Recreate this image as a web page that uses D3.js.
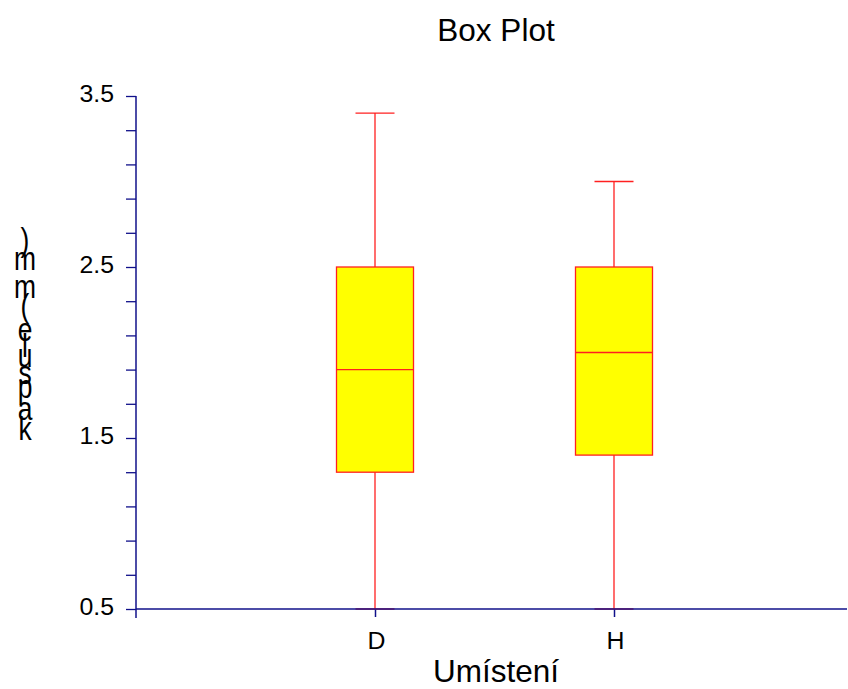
<!DOCTYPE html>
<html>
<head>
<meta charset="utf-8">
<script src="https://cdn.jsdelivr.net/npm/d3@7"></script>
<style>
  html, body { margin: 0; padding: 0; background: #fff; }
  svg { display: block; font-family: "Liberation Sans", Arial, sans-serif; }
</style>
</head>
<body>
<svg id="chart" width="848" height="689"></svg>
<script>
// Box plot summary per location
const categories = ["D", "H"];
const minimums   = [0.5, 0.5];
const lowerQuart = [1.3, 1.4];
const medians    = [1.9, 2.0];
const upperQuart = [2.5, 2.5];
const maximums   = [3.4, 3.0];

const majorTicks = [0.5, 1.5, 2.5, 3.5];
const minorTicks = [0.7, 0.9, 1.1, 1.3, 1.7, 1.9, 2.1, 2.3, 2.7, 2.9, 3.1, 3.3];

const titleText = "Box Plot";
const xTitle = "Umístení";
const yTitle = "kapsule (mm)";

const axisColor = "#10108a";
const boxStroke = "#ff2020";
const boxFill = "#ffff00";
const fontFamily = "'Liberation Sans', Arial, sans-serif";

const svg = d3.select("#chart");
const plotLeft = 136, plotRight = 847, plotTop = 96, plotBottom = 609;

const y = d3.scaleLinear().domain([0.5, 3.5]).range([plotBottom, plotTop]);
const x = d3.scaleLinear().domain([0, categories.length + 1]).range([plotLeft, 853]);

const boxW = 77, capW = 39;
const tickFont = 23, tickStretch = 1.08;

// widen tick labels slightly, keeping their anchor
function stretchLabels(sel) {
  sel.each(function () {
    const len = this.getComputedTextLength();
    d3.select(this).attr("textLength", len * tickStretch).attr("lengthAdjust", "spacingAndGlyphs");
  });
}

// Y axis: major ticks labelled, minor ticks plain
const yAxis = d3.axisLeft(y).tickValues(majorTicks).tickFormat(d3.format(".1f"))
  .tickSize(10).tickPadding(12);
const gy = svg.append("g").attr("transform", `translate(${plotLeft},0)`).call(yAxis);
gy.select(".domain").remove();
gy.selectAll(".tick line").attr("stroke", axisColor).attr("stroke-width", 1.3);
gy.selectAll(".tick text").attr("fill", "#000").attr("dy", "0.24em")
  .style("font-size", tickFont + "px").style("font-family", fontFamily)
  .call(stretchLabels);

const yMinor = d3.axisLeft(y).tickValues(minorTicks).tickFormat("").tickSize(10);
const gym = svg.append("g").attr("transform", `translate(${plotLeft},0)`).call(yMinor);
gym.select(".domain").remove();
gym.selectAll(".tick line").attr("stroke", axisColor).attr("stroke-width", 1.3);

// X axis: category ticks below the baseline
const xAxis = d3.axisBottom(x).tickValues(categories.map((c, i) => i + 1))
  .tickFormat((d) => categories[d - 1]).tickSize(8);
const gx = svg.append("g").attr("transform", `translate(0,${plotBottom})`).call(xAxis);
gx.select(".domain").remove();
gx.selectAll(".tick line").attr("stroke", axisColor).attr("stroke-width", 1.5);
gx.selectAll(".tick text").attr("fill", "#000").attr("y", 40).attr("dy", 0).attr("x", 1)
  .style("font-size", tickFont + "px").style("font-family", fontFamily)
  .call(stretchLabels);

// Boxes and whiskers
const boxes = svg.append("g");
categories.forEach((c, i) => {
  const cx = x(i + 1);
  const g = boxes.append("g");
  g.append("line").attr("x1", cx).attr("x2", cx)
    .attr("y1", y(maximums[i])).attr("y2", y(minimums[i]))
    .attr("stroke", boxStroke).attr("stroke-width", 1.3);
  [maximums[i], minimums[i]].forEach(v => {
    g.append("line").attr("x1", cx - capW / 2).attr("x2", cx + capW / 2)
      .attr("y1", y(v)).attr("y2", y(v))
      .attr("stroke", boxStroke).attr("stroke-width", 1.3);
  });
  g.append("rect").attr("x", cx - boxW / 2).attr("width", boxW)
    .attr("y", y(upperQuart[i])).attr("height", y(lowerQuart[i]) - y(upperQuart[i]))
    .attr("fill", boxFill).attr("stroke", boxStroke).attr("stroke-width", 1.3);
  g.append("line").attr("x1", cx - boxW / 2).attr("x2", cx + boxW / 2)
    .attr("y1", y(medians[i])).attr("y2", y(medians[i]))
    .attr("stroke", boxStroke).attr("stroke-width", 1.3);
});

// Axis lines
svg.append("line").attr("x1", plotLeft).attr("x2", plotRight)
  .attr("y1", plotBottom).attr("y2", plotBottom)
  .attr("stroke", axisColor).attr("stroke-width", 1.5);
svg.append("line").attr("x1", plotLeft).attr("x2", plotLeft)
  .attr("y1", plotTop).attr("y2", plotBottom + 9)
  .attr("stroke", axisColor).attr("stroke-width", 1.5);

// Titles
svg.append("text").attr("x", 496).attr("y", 41).attr("text-anchor", "middle")
  .style("font-size", "31.5px").attr("fill", "#000").text(titleText);
svg.append("text").attr("x", 496).attr("y", 682).attr("text-anchor", "middle")
  .style("font-size", "31.5px").attr("fill", "#000").text(xTitle);

// Vertical axis title: the run is laid out bottom-to-top, each glyph kept upright
// and narrowed, centred on its own cell along the run
const yFont = 33, glyphSquash = 0.8, labelX = 25;
const ctx = document.createElement("canvas").getContext("2d");
ctx.font = `${yFont}px "Liberation Sans", Arial, sans-serif`;
const chars = Array.from(yTitle);
const yLabel = svg.append("g");
let run = 436.5;
chars.forEach(ch => {
  const m = ctx.measureText(ch);
  const adv = m.width;
  const centre = run - adv / 2;
  run -= adv;
  if (ch === " ") return;
  // baseline so that the inked part of the glyph is centred on its cell
  const baseline = centre + (m.actualBoundingBoxAscent - m.actualBoundingBoxDescent) / 2;
  yLabel.append("text")
    .attr("transform", `translate(${labelX},${baseline}) scale(${glyphSquash},1)`)
    .attr("text-anchor", "middle")
    .style("font-size", yFont + "px").attr("fill", "#000").text(ch);
});
</script>
</body>
</html>
